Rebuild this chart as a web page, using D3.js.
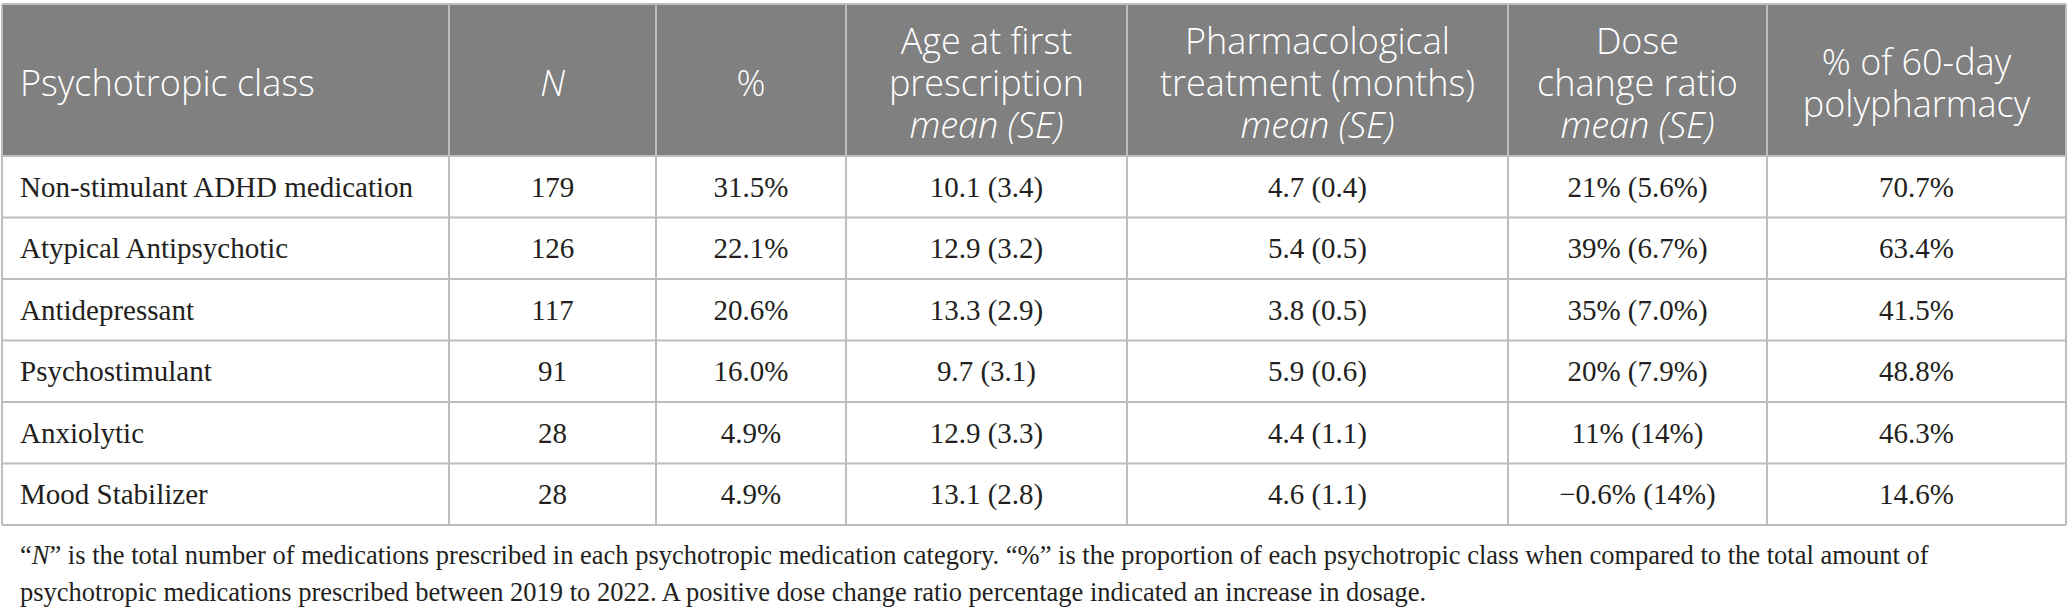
<!DOCTYPE html>
<html>
<head>
<meta charset="utf-8">
<script src="https://cdn.jsdelivr.net/npm/d3@7"></script>
<style>
  body { margin: 0; background: #fff; }
  svg { display: block; }
</style>
</head>
<body>
<div id="table"></div>
<script>
// table content
const classes = ["Non-stimulant ADHD medication", "Atypical Antipsychotic", "Antidepressant",
                 "Psychostimulant", "Anxiolytic", "Mood Stabilizer"];
const nValues = [179, 126, 117, 91, 28, 28];
const pctValues = [31.5, 22.1, 20.6, 16.0, 4.9, 4.9];
const ageMean = [10.1, 12.9, 13.3, 9.7, 12.9, 13.1];
const ageSE = [3.4, 3.2, 2.9, 3.1, 3.3, 2.8];
const treatMean = [4.7, 5.4, 3.8, 5.9, 4.4, 4.6];
const treatSE = [0.4, 0.5, 0.5, 0.6, 1.1, 1.1];
const doseMean = [21, 39, 35, 20, 11, -0.6];
const doseSE = [5.6, 6.7, 7.0, 7.9, 14, 14];
const polyPct = [70.7, 63.4, 41.5, 48.8, 46.3, 14.6];

// header lines, [text, italic]
const headers = [
  [["Psychotropic class", false]],
  [["N", true]],
  [["%", false]],
  [["Age at first", false], ["prescription", false], ["mean (SE)", true]],
  [["Pharmacological", false], ["treatment (months)", false], ["mean (SE)", true]],
  [["Dose", false], ["change ratio", false], ["mean (SE)", true]],
  [["% of 60-day", false], ["polypharmacy", false]]
];

const footnote = [
  [["“", false], ["N", true], ["” is the total number of medications prescribed in each psychotropic medication category. “%” is the proportion of each psychotropic class when compared to the total amount of", false]],
  [["psychotropic medications prescribed between 2019 to 2022. A positive dose change ratio percentage indicated an increase in dosage.", false]]
];

// layout
const width = 2067, height = 615;
const colEdges = [2, 449, 656, 846, 1127, 1508, 1767, 2066];
const headTop = 4, headBottom = 156, tableBottom = 525;
const headerFill = "#7f807f", gridColor = "#bdbdbd";
const bodyFont = "'Liberation Serif', 'Times New Roman', serif";
const headFont = "'Open Sans', 'Noto Sans', sans-serif";

const f1 = d3.format(".1f");
// values of 10 and over are printed whole, smaller ones with one decimal
const numFmt = d => {
  const s = Math.abs(d) >= 10 ? d3.format(".0f")(Math.abs(d)) : f1(Math.abs(d));
  return (d < 0 ? "\u2212" : "") + s;
};

const rows = classes.map((c, i) => [
  c,
  String(nValues[i]),
  f1(pctValues[i]) + "%",
  `${f1(ageMean[i])} (${f1(ageSE[i])})`,
  `${f1(treatMean[i])} (${f1(treatSE[i])})`,
  `${numFmt(doseMean[i])}% (${numFmt(doseSE[i])}%)`,
  f1(polyPct[i]) + "%"
]);

const svg = d3.select("#table")
  .append("svg")
    .attr("width", width)
    .attr("height", height);

const y = d3.scaleBand()
  .domain(classes)
  .range([headBottom, tableBottom]);

const colX = d3.range(colEdges.length - 1).map(i => ({
  x0: colEdges[i], x1: colEdges[i + 1], mid: (colEdges[i] + colEdges[i + 1]) / 2
}));

// header background
svg.append("rect")
  .attr("x", colEdges[0])
  .attr("y", headTop)
  .attr("width", colEdges[colEdges.length - 1] - colEdges[0])
  .attr("height", headBottom - headTop)
  .attr("fill", headerFill);

// header text
const headMid = 82, lineStep = 42;
const hg = svg.append("g");
headers.forEach((lines, ci) => {
  const tx = ci === 0 ? colX[ci].x0 + 18 : colX[ci].mid;
  const t = hg.append("text")
    .attr("x", tx)
    .attr("text-anchor", ci === 0 ? "start" : "middle")
    .attr("fill", "#fff")
    .style("font-family", headFont)
    .style("font-weight", 300)
    .style("font-size", "36px");
  lines.forEach(([txt, it], li) => {
    t.append("tspan")
      .attr("x", tx)
      .attr("y", headMid + (li - (lines.length - 1) / 2) * lineStep)
      .attr("dominant-baseline", "central")
      .style("font-style", it ? "italic" : "normal")
      .text(txt);
  });
});

// grid lines
const grid = svg.append("g")
  .attr("stroke", gridColor)
  .attr("stroke-width", 2);

grid.selectAll("line.h")
  .data(classes)
  .join("line")
    .attr("class", "h")
    .attr("x1", colEdges[0])
    .attr("x2", colEdges[colEdges.length - 1])
    .attr("y1", d => y(d) + y.bandwidth())
    .attr("y2", d => y(d) + y.bandwidth());

grid.selectAll("line.v")
  .data(colEdges)
  .join("line")
    .attr("class", "v")
    .attr("x1", d => d)
    .attr("x2", d => d)
    .attr("y1", headTop)
    .attr("y2", tableBottom);

// header top border and header bottom
grid.append("line")
  .attr("x1", colEdges[0]).attr("x2", colEdges[colEdges.length - 1])
  .attr("y1", headTop).attr("y2", headTop);
grid.append("line")
  .attr("x1", colEdges[0]).attr("x2", colEdges[colEdges.length - 1])
  .attr("y1", headBottom).attr("y2", headBottom);

// body cells
const body = svg.append("g")
  .style("font-family", bodyFont)
  .style("font-size", "29px")
  .attr("fill", "#231f20");

body.selectAll("g.row")
  .data(rows)
  .join("g")
    .attr("class", "row")
    .attr("transform", (d, i) => `translate(0,${y(classes[i]) + y.bandwidth() / 2})`)
  .selectAll("text")
  .data(d => d)
  .join("text")
    .attr("x", (d, ci) => ci === 0 ? colX[ci].x0 + 18 : colX[ci].mid)
    .attr("text-anchor", (d, ci) => ci === 0 ? "start" : "middle")
    .attr("dominant-baseline", "central")
    .text(d => d);

// footnote
const foot = svg.append("g")
  .style("font-family", bodyFont)
  .style("font-size", "26.5px")
  .attr("fill", "#231f20");

footnote.forEach((parts, li) => {
  const t = foot.append("text")
    .attr("x", 20)
    .attr("y", 555 + li * 37)
    .attr("dominant-baseline", "central");
  parts.forEach(([txt, it]) => {
    t.append("tspan")
      .style("font-style", it ? "italic" : "normal")
      .text(txt);
  });
});
</script>
</body>
</html>
